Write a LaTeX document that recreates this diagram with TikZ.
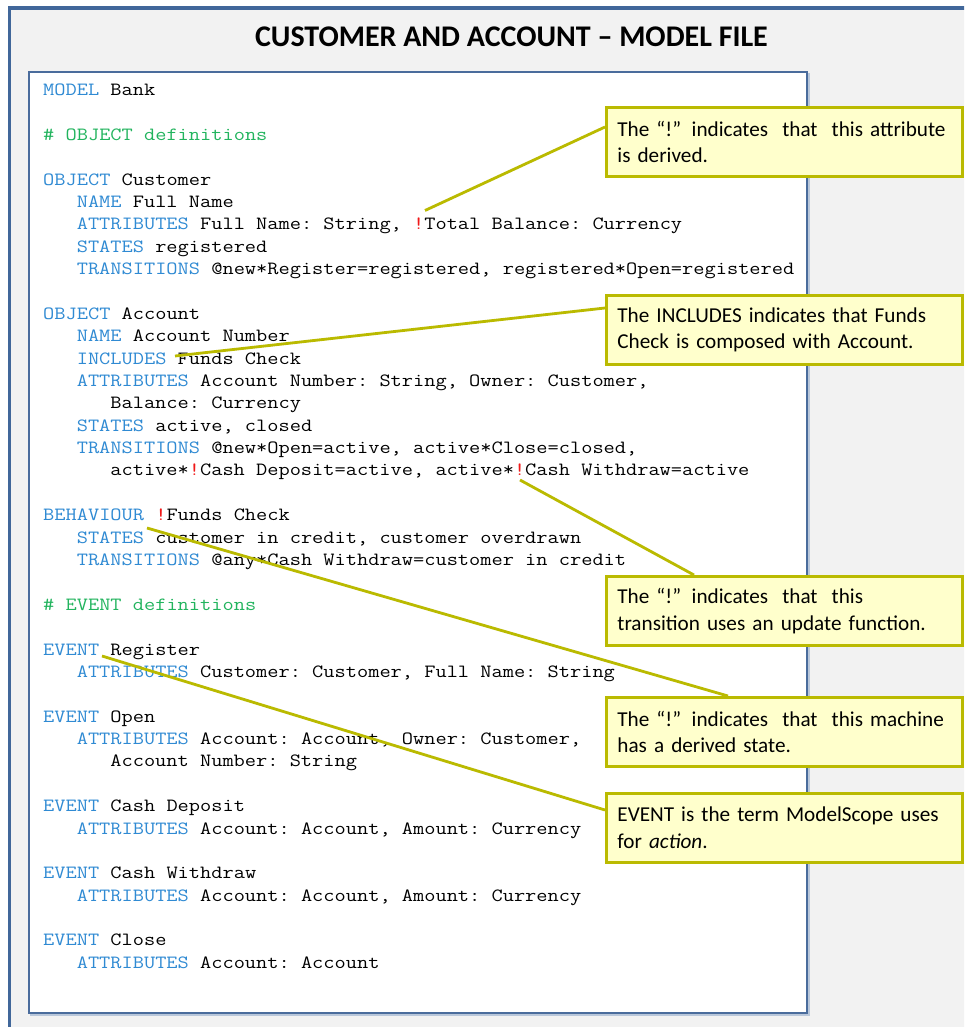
\documentclass[tikz,border=0pt]{standalone}
\usepackage{fontspec}
\setmainfont{Carlito}
\newfontfamily\codefont[FakeStretch=1.166]{Latin Modern Mono}
\usetikzlibrary{calc}

\definecolor{panelgray}{HTML}{F2F2F2}
\definecolor{frameblue}{HTML}{41679A}
\definecolor{boxblue}{HTML}{4A6C9C}
\definecolor{shadowblue}{HTML}{B9C7DA}
\definecolor{kwblue}{HTML}{2F8AD3}
\definecolor{cmgreen}{HTML}{22B45E}
\definecolor{bangred}{HTML}{F01818}
\definecolor{notefill}{HTML}{FFFFCC}
\definecolor{noteline}{HTML}{BABA00}

\newcommand\kw[1]{\textcolor{kwblue}{#1}}
\newcommand\cm[1]{\textcolor{cmgreen}{#1}}
\newcommand\bang{\textcolor{bangred}{!}}
% one line of the model file: line number, indent (characters), text
\newcommand\codeline[3]{\node[codetext] (L#1) at ({43+11.2*#2},{95.5+22.38*#1}) {#3};}

\begin{document}
\begin{tikzpicture}[x=1pt,y=-1pt,
  codetext/.style={anchor=base west,inner sep=0pt,
    font=\codefont\fontsize{18.67}{22}\selectfont\frenchspacing},
  note/.style={draw=noteline,fill=notefill,line width=2.8pt,anchor=north west,
    minimum width=356pt,minimum height=69pt,text width=334pt,align=left,
    inner xsep=11pt,font=\fontsize{21.2}{26.7}\selectfont},
  link/.style={draw=noteline,line width=2.8pt}]
\useasboundingbox (0,0) rectangle (964,1027);
\clip (0,0) rectangle (964,1027);

% outer panel
\draw[fill=panelgray,draw=frameblue,line width=3.4pt] (9.5,8) rectangle (1100,1100);
\node[font=\bfseries\fontsize{30}{34}\selectfont,anchor=base] (title) at (511.5,46.5)
  {CUSTOMER AND ACCOUNT – MODEL FILE};

% model file sheet
\draw[shadowblue,line width=1.5pt] (31,74) rectangle (809,1015);
\draw[fill=white,draw=boxblue,line width=2pt] (29,72) rectangle (807,1013);

% model file text
\codeline{0}{0}{\kw{MODEL} Bank}
\codeline{2}{0}{\cm{\# OBJECT definitions}}
\codeline{4}{0}{\kw{OBJECT} Customer}
\codeline{5}{3}{\kw{NAME} Full Name}
\codeline{6}{3}{\kw{ATTRIBUTES} Full Name: String, \bang Total Balance: Currency}
\codeline{7}{3}{\kw{STATES} registered}
\codeline{8}{3}{\kw{TRANSITIONS} @new*Register=registered, registered*Open=registered}
\codeline{10}{0}{\kw{OBJECT} Account}
\codeline{11}{3}{\kw{NAME} Account Number}
\codeline{12}{3}{\kw{INCLUDES} Funds Check}
\codeline{13}{3}{\kw{ATTRIBUTES} Account Number: String, Owner: Customer,}
\codeline{14}{6}{Balance: Currency}
\codeline{15}{3}{\kw{STATES} active, closed}
\codeline{16}{3}{\kw{TRANSITIONS} @new*Open=active, active*Close=closed,}
\codeline{17}{6}{active*\bang Cash Deposit=active, active*\bang Cash Withdraw=active}
\codeline{19}{0}{\kw{BEHAVIOUR} \bang Funds Check}
\codeline{20}{3}{\kw{STATES} customer in credit, customer overdrawn}
\codeline{21}{3}{\kw{TRANSITIONS} @any*Cash Withdraw=customer in credit}
\codeline{23}{0}{\cm{\# EVENT definitions}}
\codeline{25}{0}{\kw{EVENT} Register}
\codeline{26}{3}{\kw{ATTRIBUTES} Customer: Customer, Full Name: String}
\codeline{28}{0}{\kw{EVENT} Open}
\codeline{29}{3}{\kw{ATTRIBUTES} Account: Account, Owner: Customer,}
\codeline{30}{6}{Account Number: String}
\codeline{32}{0}{\kw{EVENT} Cash Deposit}
\codeline{33}{3}{\kw{ATTRIBUTES} Account: Account, Amount: Currency}
\codeline{35}{0}{\kw{EVENT} Cash Withdraw}
\codeline{36}{3}{\kw{ATTRIBUTES} Account: Account, Amount: Currency}
\codeline{38}{0}{\kw{EVENT} Close}
\codeline{39}{3}{\kw{ATTRIBUTES} Account: Account}

% points in the text that the notes refer to
\coordinate (derivedattr) at (425,210.5);
\coordinate (includes) at (175,356);
\coordinate (updatefn) at (520,480);
\coordinate (derivedstate) at (147,528);
\coordinate (eventkw) at (102,656);

% notes
\node[note] (n1) at (605,106) {The “!” indicates~ that~ this attribute\\is derived.};
\node[note] (n2) at (605,294) {The INCLUDES indicates that Funds\\Check is composed with Account.};
\node[note] (n3) at (605,575) {The “!” indicates~ that~ this\\transition uses an update function.};
\node[note] (n4) at (605,696) {The “!” indicates~ that~ this machine\\has a derived state.};
\node[note] (n5) at (605,792) {EVENT is the term ModelScope uses\\for \textit{action}.};

% leader lines
\draw[link] (derivedattr) -- ([yshift=-21pt]n1.north west);
\draw[link] (includes) -- ([yshift=-14pt]n2.north west);
\draw[link] (updatefn) -- ([xshift=89pt]n3.north west);
\draw[link] (derivedstate) -- ([xshift=123pt]n4.north west);
\draw[link] (eventkw) -- ([yshift=-18pt]n5.north west);
\end{tikzpicture}
\end{document}
